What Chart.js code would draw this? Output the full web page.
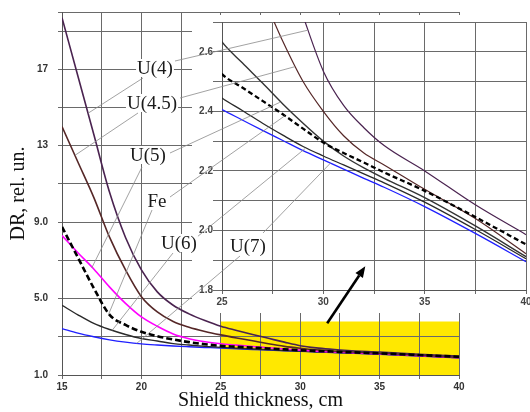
<!DOCTYPE html>
<html>
<head>
<meta charset="utf-8">
<script src="https://cdn.jsdelivr.net/npm/chart.js@4.4.1/dist/chart.umd.min.js"></script>
<style>
    html, body { margin: 0; padding: 0; background: #fff; }
    #wrap { position: relative; width: 530px; height: 412px; overflow: hidden; }
    #wrap canvas { position: absolute; }
    #inset { background: #fff; }
    #notes { pointer-events: none; }
</style>
</head>
<body>
<div id="wrap">
    <canvas id="main" width="530" height="412"></canvas>
    <canvas id="inset" width="345" height="298"></canvas>
    <canvas id="notes" width="530" height="412"></canvas>
</div>
<script>
// Shield thickness, cm
const thickness = [15, 16, 17, 18, 19, 20, 21, 22, 23, 24, 25, 26, 27, 28, 29, 30, 31, 32, 33, 35, 37.5, 40];

// DR, rel. un.
const doseU4  = [19.7, 16.65, 13.6, 10.55, 8.2, 6.5, 5.35, 4.65, 4.2, 3.85, 3.55, 3.33, 3.12, 2.92, 2.72, 2.535, 2.42, 2.345, 2.285, 2.2, 2.086, 1.986];
const doseU45 = [14.0, 12.15, 10.3, 8.2, 6.5, 5.1, 4.3, 3.8, 3.5, 3.28, 3.1, 2.94, 2.79, 2.635, 2.5, 2.4, 2.318, 2.26, 2.22, 2.138, 2.04, 1.922];
const doseU5  = [8.3, 7.4, 6.55, 5.6, 4.75, 4.04, 3.55, 3.15, 2.9, 2.74, 2.633, 2.563, 2.495, 2.425, 2.36, 2.3, 2.25, 2.21, 2.175, 2.11, 2.015, 1.912];
const doseFe  = [8.75, 7.15, 5.55, 4.15, 3.62, 3.26, 3.03, 2.86, 2.72, 2.61, 2.525, 2.48, 2.435, 2.39, 2.342, 2.295, 2.26, 2.228, 2.195, 2.133, 2.045, 1.953];
const doseU6  = [4.65, 4.15, 3.7, 3.38, 3.12, 2.91, 2.78, 2.64, 2.57, 2.5, 2.445, 2.403, 2.36, 2.32, 2.282, 2.25, 2.22, 2.19, 2.16, 2.095, 2.003, 1.905];
const doseU7  = [3.43, 3.19, 3.0, 2.84, 2.72, 2.63, 2.57, 2.52, 2.48, 2.443, 2.406, 2.371, 2.336, 2.302, 2.268, 2.237, 2.206, 2.175, 2.145, 2.08, 1.99, 1.895];

const seriesNames = ['U(4)', 'U(4.5)', 'U(5)', 'Fe', 'U(6)', 'U(7)'];
const seriesValues = [doseU4, doseU45, doseU5, doseFe, doseU6, doseU7];

// tick positions and labels
const mainXTicks  = [15, 17.5, 20, 22.5, 25, 27.5, 30, 32.5, 35, 37.5, 40];
const mainXLabels = ['15', '', '20', '', '25', '', '30', '', '35', '', '40'];
const mainYTicks  = [1, 3, 5, 7, 9, 11, 13, 15, 17, 19, 20];
const mainYLabels = ['1.0', '', '5.0', '', '9.0', '', '13', '', '17', '', ''];
const insetXTicks  = [25, 27.5, 30, 32.5, 35, 37.5, 40];
const insetXLabels = ['25', '', '30', '', '35', '', '40'];
const insetYTicks  = [1.8, 1.9, 2.0, 2.1, 2.2, 2.3, 2.4, 2.5, 2.6, 2.7];
const insetYLabels = ['1.8', '', '2.0', '', '2.2', '', '2.4', '', '2.6', ''];

// zoomed area marked on the main chart: [x from, x to, y from, y to]
const zoomBox = [25, 40, 1, 3.8];

// labels: centre (px), where each leader starts (px), and the curve point it ends on (data units)
const noteAt        = [[155, 68], [152, 103], [148, 155], [157, 201], [179, 243], [248, 246]];
const noteUpperFrom = [[175, 61], [180, 98], [170, 153], [170, 197], [197, 237], [263, 233]];
const noteLowerFrom = [[143, 78], [138, 113], [142, 167], [152, 210], [173, 253], [240, 256]];
const noteInsetTo   = [[29.2, 2.672], [28.6, 2.55], [27.85, 2.43], [28.1, 2.385], [29.1, 2.275], [30.35, 2.226]];
const noteMainTo    = [[16.64, 14.7], [15.82, 12.5], [16.87, 6.6], [17.92, 4.15], [18.15, 3.33], [19.7, 2.65]];

// arrow from the yellow box to the inset, main chart data units
const arrowFrom = [31.7, 3.71];
const arrowTo   = [34.1, 6.69];

const INSET_LEFT = 192;
const INSET_TOP = 15;

const mainStyles = [
    { borderColor: '#4a2350', borderWidth: 1.6 },
    { borderColor: '#552727', borderWidth: 1.6 },
    { borderColor: '#ff00ff', borderWidth: 1.6 },
    { borderColor: '#000000', borderWidth: 2.6, borderDash: [6, 3], order: -1 },
    { borderColor: '#2a2a2a', borderWidth: 1.4 },
    { borderColor: '#1f1fff', borderWidth: 1.4 }
];
const insetStyles = [
    { borderColor: '#4a2350', borderWidth: 1.2 },
    { borderColor: '#552727', borderWidth: 1.2 },
    { borderColor: '#333333', borderWidth: 1.4 },
    { borderColor: '#000000', borderWidth: 2.3, borderDash: [5, 3], order: -1 },
    { borderColor: '#2a2a2a', borderWidth: 1.3 },
    { borderColor: '#1f1fff', borderWidth: 1.3 }
];

function makeDatasets(styles) {
    return seriesValues.map((vals, i) => Object.assign({
        label: seriesNames[i],
        data: thickness.map((x, j) => ({ x: x, y: vals[j] })),
        pointRadius: 0,
        fill: false,
        cubicInterpolationMode: 'monotone'
    }, styles[i]));
}

function tickFont(size) {
    return { family: '"Liberation Sans", Arial, sans-serif', size: size, weight: 'bold', lineHeight: 1 };
}

function axis(min, max, values, labels, opts) {
    return {
        type: 'linear',
        min: min,
        max: max,
        afterBuildTicks: s => { s.ticks = values.map(v => ({ value: v })); },
        afterFit: opts.fit,
        ticks: {
            autoSkip: false,
            maxRotation: 0,
            padding: opts.padding,
            color: opts.color,
            font: tickFont(opts.size),
            // empty array keeps the grid line but takes no room
            callback: (v, i) => labels[i] || []
        },
        grid: { color: '#6a6a6a', lineWidth: 1, tickLength: opts.tickLength },
        border: { color: '#555', width: 1 },
        title: opts.title || { display: false }
    };
}

const zoomBoxPlugin = {
    id: 'zoomBox',
    beforeDraw(chart) {
        const { ctx, scales } = chart;
        const x1 = scales.x.getPixelForValue(zoomBox[0]);
        const x2 = scales.x.getPixelForValue(zoomBox[1]);
        const y1 = scales.y.getPixelForValue(zoomBox[2]);
        const y2 = scales.y.getPixelForValue(zoomBox[3]);
        ctx.save();
        ctx.fillStyle = '#ffe800';
        ctx.fillRect(x1, y2, x2 - x1, y1 - y2);
        ctx.restore();
    }
};

const mainChart = new Chart(document.getElementById('main'), {
    type: 'line',
    data: { datasets: makeDatasets(mainStyles) },
    options: {
        responsive: false,
        animation: false,
        devicePixelRatio: 1,
        layout: { padding: { left: 0, right: 71, top: 12, bottom: 0 } },
        plugins: { legend: { display: false }, tooltip: { enabled: false } },
        scales: {
            x: axis(15, 40, mainXTicks, mainXLabels, {
                fit: s => { s.height = 37; }, padding: 3, tickLength: 4, size: 10, color: '#333',
                title: { display: true, text: 'Shield thickness, cm', color: '#111', padding: 0,
                         font: { family: '"Liberation Serif", "Times New Roman", serif', size: 20, lineHeight: 1.1 } }
            }),
            y: axis(1, 20, mainYTicks, mainYLabels, {
                fit: s => { s.width = 62; }, padding: 10, tickLength: 4, size: 10, color: '#333',
                title: { display: true, text: 'DR, rel. un.', color: '#111', padding: { top: 8, bottom: 0 },
                         font: { family: '"Liberation Serif", "Times New Roman", serif', size: 20, lineHeight: 1.1 } }
            })
        }
    },
    plugins: [zoomBoxPlugin]
});

const insetCanvas = document.getElementById('inset');
insetCanvas.style.left = INSET_LEFT + 'px';
insetCanvas.style.top = INSET_TOP + 'px';

const insetChart = new Chart(insetCanvas, {
    type: 'line',
    data: { datasets: makeDatasets(insetStyles) },
    options: {
        responsive: false,
        animation: false,
        devicePixelRatio: 1,
        layout: { padding: { left: 0, right: 11, top: 7, bottom: 0 } },
        plugins: { legend: { display: false }, tooltip: { enabled: false } },
        scales: {
            x: axis(25, 40, insetXTicks, insetXLabels, {
                fit: s => { s.height = 23; }, padding: 3, tickLength: 4, size: 10, color: '#444'
            }),
            y: axis(1.8, 2.7, insetYTicks, insetYLabels, {
                fit: s => { s.width = 30; }, padding: 0, tickLength: 9, size: 10, color: '#444'
            })
        }
    }
});

// labels, leader lines and arrow drawn over both charts
function mainPx(p) {
    return [mainChart.scales.x.getPixelForValue(p[0]), mainChart.scales.y.getPixelForValue(p[1])];
}
function insetPx(p) {
    return [INSET_LEFT + insetChart.scales.x.getPixelForValue(p[0]), INSET_TOP + insetChart.scales.y.getPixelForValue(p[1])];
}

function drawNotes() {
    const ctx = document.getElementById('notes').getContext('2d');

    ctx.strokeStyle = '#8a8a8a';
    ctx.lineWidth = 0.8;
    seriesNames.forEach((name, i) => {
        const a = insetPx(noteInsetTo[i]);
        const b = mainPx(noteMainTo[i]);
        ctx.beginPath();
        ctx.moveTo(noteUpperFrom[i][0], noteUpperFrom[i][1]);
        ctx.lineTo(a[0], a[1]);
        ctx.moveTo(noteLowerFrom[i][0], noteLowerFrom[i][1]);
        ctx.lineTo(b[0], b[1]);
        ctx.stroke();
    });

    ctx.font = '19px "Liberation Serif", "Times New Roman", serif';
    ctx.textAlign = 'center';
    ctx.textBaseline = 'middle';
    seriesNames.forEach((name, i) => {
        const [cx, cy] = noteAt[i];
        const w = ctx.measureText(name).width + 2;
        ctx.fillStyle = '#fff';
        ctx.fillRect(cx - w / 2, cy - 9, w, 18);
        ctx.fillStyle = '#1a1a1a';
        ctx.fillText(name, cx, cy + 1);
    });

    // arrow
    const s = mainPx(arrowFrom);
    const e = mainPx(arrowTo);
    const ang = Math.atan2(e[1] - s[1], e[0] - s[0]);
    const headLen = 11, headHalf = 4.5;
    const bx = e[0] - headLen * Math.cos(ang);
    const by = e[1] - headLen * Math.sin(ang);
    ctx.strokeStyle = '#000';
    ctx.lineWidth = 2.6;
    ctx.beginPath();
    ctx.moveTo(s[0], s[1]);
    ctx.lineTo(bx, by);
    ctx.stroke();
    ctx.fillStyle = '#000';
    ctx.beginPath();
    ctx.moveTo(e[0], e[1]);
    ctx.lineTo(bx + headHalf * Math.sin(ang), by - headHalf * Math.cos(ang));
    ctx.lineTo(bx - headHalf * Math.sin(ang), by + headHalf * Math.cos(ang));
    ctx.closePath();
    ctx.fill();
}

drawNotes();
</script>
</body>
</html>
